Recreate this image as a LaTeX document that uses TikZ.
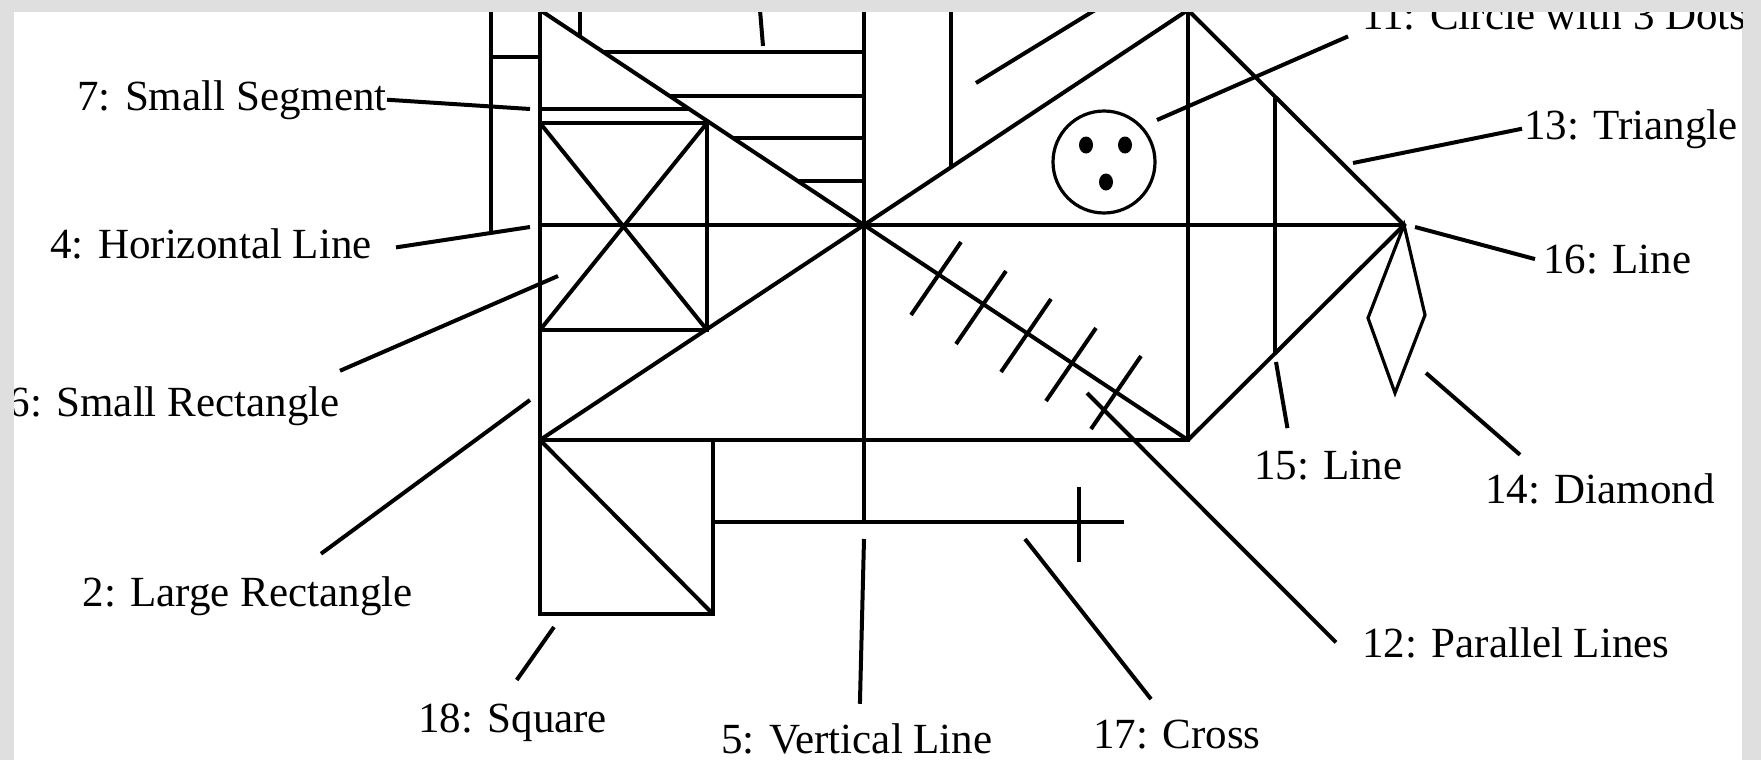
\documentclass[tikz,border=0pt]{standalone}
\usepackage{fontspec}
\setmainfont{Liberation Serif}
\usetikzlibrary{positioning}
\definecolor{framegray}{RGB}{223,223,223}
\tikzstyle{fig}    = [line width=2pt]
\tikzstyle{thin}   = [line width=1.6pt]
\tikzstyle{leader} = [line width=2pt]
\tikzstyle{lbl}    = [inner sep=0pt, font=\fontsize{21.5}{24}\selectfont]

\begin{document}
\begin{tikzpicture}[x=0.5pt, y=-0.5pt]
    \fill[framegray] (0,0) rectangle (1761,760);
    \fill[white] (14,12) rectangle (1742,760);
    \useasboundingbox (0,0) rectangle (1761,760);
    \begin{scope}
    \clip (14,12) rectangle (1742,760);
    % key points of the figure
    \coordinate (tl) at (540,10);
    \coordinate (tr) at (1188,10);
    \coordinate (bl) at (540,440);
    \coordinate (br) at (1188,440);
    \coordinate (c)  at (864,225);
    \coordinate (apex) at (1404,225);
    % large rectangle, diagonals, midline, triangle
    \draw[fig] (tl) rectangle (br);
    \draw[fig] (tl) -- (br);
    \draw[fig] (bl) -- (tr);
    \draw[fig] (540,225) -- (apex);
    \draw[fig] (864,10) -- (864,522);
    \draw[fig] (tr) -- (apex) -- (br);
    % left cross
    \draw[fig] (491,10) -- (491,231);
    \draw[fig] (491,57) -- (540,57);
    % small rectangle
    \draw[fig] (540,123) rectangle (707,330);
    \draw[fig] (540,123) -- (707,330);
    \draw[fig] (707,123) -- (540,330);
    % small segment
    \draw[fig] (540,109) -- (688,109);
    % horizontal lines in upper quadrant
    \foreach \y/\x in {52/602, 96/669, 138/732, 181/797}
        \draw[fig] (\x,\y) -- (864,\y);
    \draw[fig] (580,10) -- (580,37);
    \draw[fig] (760,10) -- (763,46);
    % upper right quadrant
    \draw[fig] (951,10) -- (951,168);
    \draw[fig] (976,83) -- (1100,7);
    \draw[thin] (1104,162) circle[radius=51];
    \fill (1086,145) ellipse (7 and 8.5);
    \fill (1125,145) ellipse (7 and 8.5);
    \fill (1106,182) ellipse (7 and 8.5);
    % parallel lines on the diagonal
    \foreach \x/\y in {911/315, 956/344, 1001/372, 1046/401, 1091/429}
        \draw[fig] (\x,\y) -- ++(50,-73);
    % triangle inner line and diamond
    \draw[fig] (1275,98) -- (1275,353);
    \draw[thin] (apex) -- (1425,315) -- (1395,393) -- (1368,318) -- cycle;
    % square and cross
    \draw[fig] (bl) rectangle (713,614);
    \draw[fig] (bl) -- (713,614);
    \draw[fig] (713,522) -- (1124,522);
    \draw[fig] (1079,487) -- (1079,562);

    % labels
    \node[lbl, anchor=base east] (l7)  at (387,110) {7: Small Segment};
    \node[lbl, anchor=base east] (l4)  at (372,258) {4: Horizontal Line};
    \node[lbl, anchor=base east] (l6)  at (340,416) {6: Small Rectangle};
    \node[lbl, anchor=base east] (l2)  at (413,606) {2: Large Rectangle};
    \node[lbl, anchor=base west] (l18) at (418,732) {18: Square};
    \node[lbl, anchor=base west] (l5)  at (721,753) {5: Vertical Line};
    \node[lbl, anchor=base west] (l17) at (1093,748) {17: Cross};
    \node[lbl, anchor=base west] (l12) at (1362,657) {12: Parallel Lines};
    \node[lbl, anchor=base west] (l15) at (1254,479) {15: Line};
    \node[lbl, anchor=base west] (l14) at (1485,503) {14: Diamond};
    \node[lbl, anchor=base west] (l16) at (1543,273) {16: Line};
    \node[lbl, anchor=base west] (l13) at (1524,139) {13: Triangle};
    \node[lbl, anchor=base west] (l11) at (1362,29) {11: Circle with 3 Dots};

    % leader ends on the figure
    \coordinate (t7)  at (530,109);
    \coordinate (t4)  at (530,227);
    \coordinate (t6)  at (558,276);
    \coordinate (t2)  at (530,400);
    \coordinate (t18) at (554,627);
    \coordinate (t5)  at (864,539);
    \coordinate (t17) at (1025,539);
    \coordinate (t12) at (1087,393);
    \coordinate (t15) at (1276,362);
    \coordinate (t14) at (1426,373);
    \coordinate (t16) at (1415,227);
    \coordinate (t13) at (1353,163);
    \coordinate (t11) at (1157,120);

    \draw[leader] (l7.east) -- (t7);
    \draw[leader] ([xshift=12pt,yshift=-2pt]l4.east) -- (t4);
    \draw[leader] ([xshift=0pt,yshift=7.5pt]l6.north east) -- (t6);
    \draw[leader] ([xshift=-46pt,yshift=11pt]l2.north east) -- (t2);
    \draw[leader] ([xshift=2pt,yshift=11.5pt]l18.north) -- (t18);
    \draw[leader] ([xshift=1.5pt,yshift=9.5pt]l5.north) -- (t5);
    \draw[leader] ([xshift=-13pt,yshift=10pt]l17.north) -- (t17);
    \draw[leader] ([xshift=-13pt]l12.west) -- (t12);
    \draw[leader] ([xshift=-20.5pt,yshift=11pt]l15.north) -- (t15);
    \draw[leader] ([xshift=17.5pt,yshift=9pt]l14.north west) -- (t14);
    \draw[leader] ([xshift=-4pt]l16.west) -- (t16);
    \draw[leader] ([xshift=-1pt]l13.west) -- (t13);
    \draw[leader] ([xshift=-7pt,yshift=-11pt]l11.west) -- (t11);
    \end{scope}
\end{tikzpicture}
\end{document}
